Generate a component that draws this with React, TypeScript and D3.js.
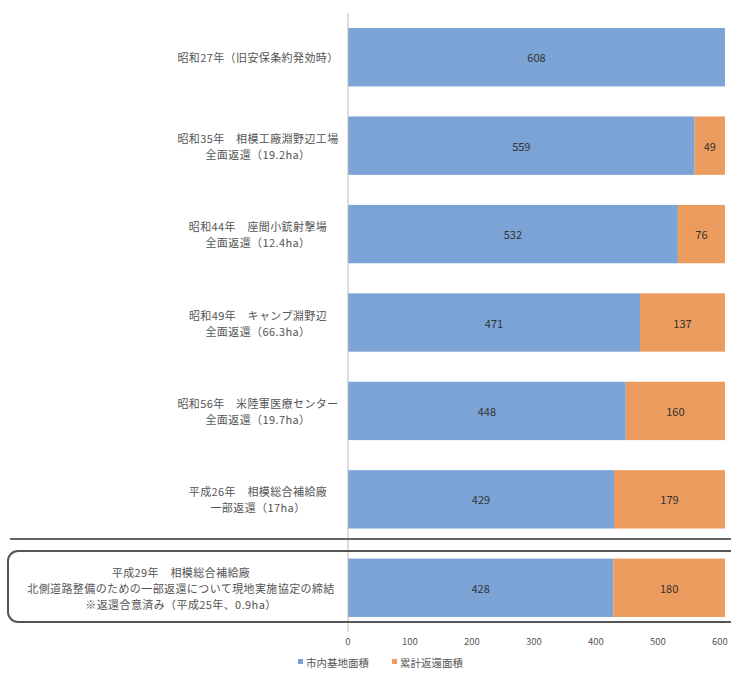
import React from "react";
import * as d3 from "d3";

const categories: string[][] = [
  ["昭和27年（旧安保条約発効時）"],
  ["昭和35年　相模工廠淵野辺工場", "全面返還（19.2ha）"],
  ["昭和44年　座間小銃射撃場", "全面返還（12.4ha）"],
  ["昭和49年　キャンプ淵野辺", "全面返還（66.3ha）"],
  ["昭和56年　米陸軍医療センター", "全面返還（19.7ha）"],
  ["平成26年　相模総合補給廠", "一部返還（17ha）"],
  ["平成29年　相模総合補給廠", "北側道路整備のための一部返還について現地実施協定の締結", "※返還合意済み（平成25年、0.9ha）"],
];
const baseArea = [608, 559, 532, 471, 448, 429, 428];
const returnedArea = [0, 49, 76, 137, 160, 179, 180];
const xTicks = [0, 100, 200, 300, 400, 500, 600];
const seriesNames = ["市内基地面積", "累計返還面積"];
const colors = ["#7ba3d6", "#ec9b5e"];

export default function App() {
  const W = 731, H = 673;
  const x = d3.scaleLinear().domain([0, 600]).range([348, 720]);
  const y = d3.scaleBand<number>().domain(d3.range(categories.length)).range([13, 632]).paddingInner(0.34).paddingOuter(0.17);
  const font = "'Noto Sans CJK JP', 'Noto Sans', sans-serif";
  const bw = y.bandwidth();
  return (
    <svg width={W} height={H} style={{ position: "absolute", left: 0, top: 0, background: "#fff" }} fontFamily={font}>
      {categories.map((lines, i) => {
        const cy = y(i)! + bw / 2;
        const b0 = x(0), b1 = x(baseArea[i]), b2 = x(baseArea[i] + returnedArea[i]);
        const lh = 16;
        const lx = i === 6 ? 181 : 258;
        return (
          <g key={i}>
            <rect x={b0} y={y(i)} width={b1 - b0} height={bw} fill={colors[0]} />
            {returnedArea[i] > 0 && <rect x={b1} y={y(i)} width={b2 - b1} height={bw} fill={colors[1]} />}
            <text x={(b0 + b1) / 2} y={cy} textAnchor="middle" dominantBaseline="central" fontSize={11} fill="#333">{baseArea[i]}</text>
            {returnedArea[i] > 0 && <text x={(b1 + b2) / 2} y={cy} textAnchor="middle" dominantBaseline="central" fontSize={11} fill="#333">{returnedArea[i]}</text>}
            {lines.map((l, j) => (
              <text key={j} x={lx} y={cy + (j - (lines.length - 1) / 2) * lh} textAnchor="middle" dominantBaseline="central" fontSize={11} letterSpacing={0.4} fill="#555">{l}</text>
            ))}
          </g>
        );
      })}
      <line x1={x(0)} x2={x(0)} y1={13} y2={632} stroke="#bbb" strokeWidth={1} />
      <line x1={10} x2={731} y1={539} y2={539} stroke="#666" strokeWidth={2} />
      <rect x={8} y={551} width={735} height={71} rx={10} ry={10} fill="none" stroke="#555" strokeWidth={2} />
      {xTicks.map(t => (
        <text key={t} x={x(t)} y={641} textAnchor="middle" dominantBaseline="central" fontSize={9.5} fill="#555">{t}</text>
      ))}
      {seriesNames.map((s, i) => {
        const lx = i === 0 ? 298 : 392;
        return (
          <g key={s}>
            <rect x={lx} y={659} width={5} height={5} fill={colors[i]} />
            <text x={lx + 8} y={662} dominantBaseline="central" fontSize={10.5} fill="#555">{s}</text>
          </g>
        );
      })}
    </svg>
  );
}
